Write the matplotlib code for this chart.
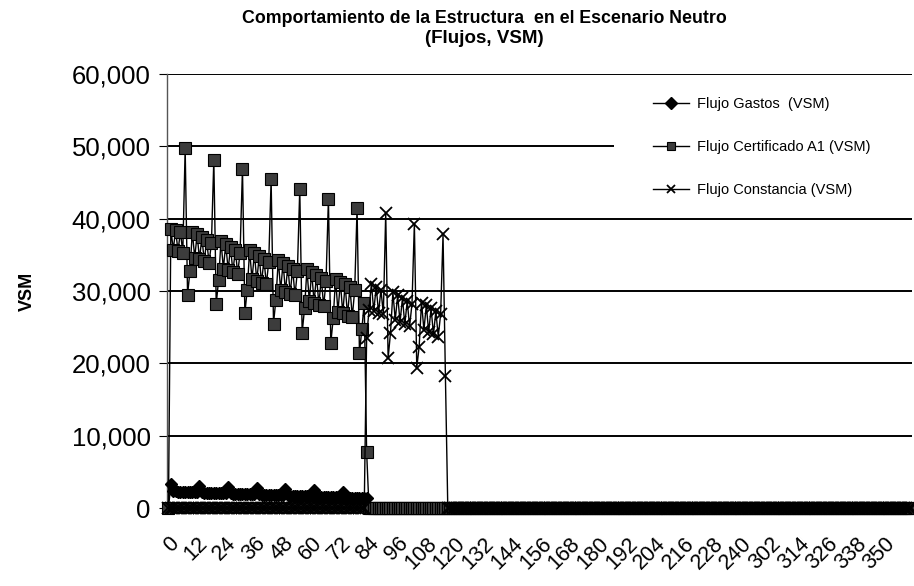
import matplotlib
matplotlib.use("Agg")
import matplotlib.pyplot as plt
from matplotlib.patches import Rectangle
from matplotlib.ticker import FuncFormatter
import matplotlib.transforms as mtransforms

plt.rcParams['font.family'] = ['Liberation Sans', 'DejaVu Sans']

# category labels on the x axis (periods), the sheet jumps from 251 to 302
periods = list(range(0, 252)) + list(range(302, 362))
n_per = len(periods)

# Flujo Gastos (VSM), periods 0..83, zero afterwards
gastos = [0, 3300,
          2300, 2290, 2280, 2260, 2250, 2240, 2220, 2210, 2200, 2190, 2170,
          3100,
          2160, 2150, 2130, 2120, 2110, 2100, 2080, 2070, 2060, 2040, 2030,
          2950,
          2020, 2010, 1990, 1980, 1970, 1950, 1940, 1930, 1920, 1900, 1890,
          2800,
          1880, 1860, 1850, 1840, 1830, 1810, 1800, 1790, 1770, 1760, 1750,
          2600,
          1740, 1720, 1710, 1700, 1680, 1670, 1660, 1650, 1630, 1620, 1610,
          2450,
          1590, 1580, 1570, 1560, 1540, 1530, 1520, 1500, 1490, 1480, 1470,
          2250,
          1450, 1440, 1430, 1410, 1400, 1390, 1380, 1360, 1350, 1340]
gastos = gastos + [0] * (n_per - len(gastos))

# Flujo Certificado A1 (VSM), periods 0..83
certificado = [0,
               38600, 35700, 38400, 35500, 38200, 35300,
               49700, 29500, 32700,
               38200, 34600, 37800, 34400, 37400, 34100, 37000, 33900, 36600,
               48100, 28200, 31500,
               36900, 33100, 36500, 32900, 36100, 32600, 35700, 32400, 35300,
               46900, 26900, 30200,
               35600, 31600, 35200, 31400, 34800, 31100, 34400, 30900, 34000,
               45400, 25500, 28800,
               34300, 30100, 33900, 29900, 33500, 29600, 33100, 29400, 32700,
               44100, 24200, 27600,
               33000, 28600, 32600, 28400, 32200, 28100, 31800, 27900, 31400,
               42700, 22800, 26200,
               31700, 27100, 31300, 26900, 30900, 26600, 30500, 26400, 30100,
               41400, 21400, 24700, 28400, 7800]
certificado = certificado + [0] * (n_per - len(certificado))

# Flujo Constancia (VSM), periods 83..116
constancia_start = 83
constancia_vals = [23500, 27400, 31000, 27200, 30600, 27000, 30200, 26800,
                   40800, 20700, 24200,
                   29800, 26000, 29400, 25700, 29000, 25400, 28600, 25100, 28200,
                   39300, 19400, 22300,
                   28400, 24600, 28000, 24300, 27600, 24000, 27200, 23700, 26800,
                   37800, 18200]
constancia = [0] * constancia_start + constancia_vals
constancia = constancia + [0] * (n_per - len(constancia))

labels = ["Flujo Gastos  (VSM)", "Flujo Certificado A1 (VSM)",
          "Flujo Constancia (VSM)"]

fig = plt.figure(figsize=(9.14, 5.86), dpi=100)
ax = fig.add_axes([0.183, 0.133, 0.815, 0.741])

x = list(range(n_per))
ax.plot(x, gastos, color='black', lw=1, marker='D', ms=6.5,
        mfc='black', mec='black', clip_on=False, label=labels[0], zorder=3)
ax.plot(x, certificado, color='black', lw=1, marker='s', ms=8,
        mfc='#3c3c3c', mec='black', mew=0.8, clip_on=False, label=labels[1],
        zorder=4)
ax.plot(x, constancia, color='black', lw=1, marker='x', ms=9, mew=1.3,
        clip_on=False, label=labels[2], zorder=5)

ax.set_xlim(-0.5, n_per - 0.5)
ax.set_ylim(0, 60000)
ax.set_yticks(range(0, 60001, 10000))
ax.yaxis.set_major_formatter(FuncFormatter(lambda v, p: f"{int(v):,}"))
ax.grid(axis='y', color='black', lw=1.4)
ax.set_axisbelow(True)

# white area behind the legend hides the right part of the 50,000 line
blend = mtransforms.blended_transform_factory(ax.transAxes, ax.transData)
ax.add_patch(Rectangle((0.6, 47000), 0.41, 6000, transform=blend,
                       facecolor='white', edgecolor='none', zorder=1,
                       clip_on=False))

tick_pos = list(range(0, n_per, 12))
ax.set_xticks(tick_pos)
ax.set_xticklabels([str(periods[i]) for i in tick_pos], rotation=45,
                   ha='right', va='top', rotation_mode='anchor', fontsize=15.5)
ax.tick_params(axis='x', length=0, pad=18)
ax.tick_params(axis='y', labelsize=18.5, length=6, color='black', pad=6)

for side in ['top', 'right', 'bottom']:
    ax.spines[side].set_visible(False)
ax.spines['left'].set_color('#555555')
ax.spines['left'].set_linewidth(1)

ax.set_ylabel("VSM", fontsize=13, fontweight='bold', labelpad=26)

fig.text(0.53, 0.968, "Comportamiento de la Estructura  en el Escenario Neutro",
         ha='center', va='center', fontsize=12.8, fontweight='bold')
fig.text(0.53, 0.934, "(Flujos, VSM)", ha='center', va='center',
         fontsize=13.5, fontweight='bold')

leg = ax.legend(loc='upper left', bbox_to_anchor=(0.652, 0.947),
                frameon=False, fontsize=10.5, handlelength=2.5,
                handletextpad=0.5, labelspacing=2.0, borderpad=0,
                borderaxespad=0)
for h in leg.legend_handles:
    h.set_markersize(6)

fig.savefig("out.png", dpi=100)
